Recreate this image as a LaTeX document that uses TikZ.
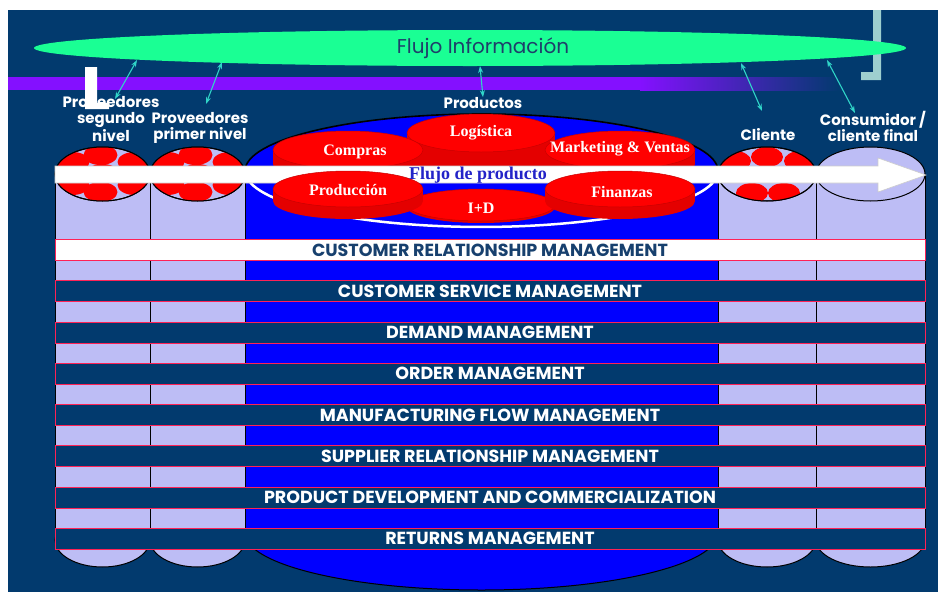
\documentclass[tikz,border=0pt]{standalone}
\usepackage{fontspec}
\setmainfont{Liberation Serif}
\newfontfamily\gothic{Poppins}
\usepackage{tikz}
\usetikzlibrary{arrows.meta, positioning}

\definecolor{NavyBg}{HTML}{023A6E}
\definecolor{InfoGreen}{HTML}{1AFF94}
\definecolor{InfoText}{HTML}{1F3F6A}
\definecolor{InfoTeal}{HTML}{30D5C8}
\definecolor{BandPurple}{HTML}{8410FF}
\definecolor{BandBlue}{HTML}{4A4AE6}
\definecolor{Bracket}{HTML}{9ECFCF}
\definecolor{Lavender}{HTML}{BDBDF5}
\definecolor{CoreBlue}{HTML}{0000FF}
\definecolor{DiscRed}{HTML}{FF0000}
\definecolor{DiscSide}{HTML}{E40000}
\definecolor{DiscEdge}{HTML}{C80000}
\definecolor{FlowText}{HTML}{2323C8}
\definecolor{BarRed}{HTML}{FF2255}
\definecolor{CrmText}{HTML}{17406E}

\tikzset{
  cylline/.style={draw=black, line width=1pt},
  reddot/.style={fill=DiscRed},
  discside/.style={fill=DiscSide},
  discface/.style={fill=DiscRed, draw=DiscEdge, line width=0.5pt},
  disctext/.style={text=white, inner sep=0pt, font=\bfseries\fontsize{16}{18}\selectfont},
  actor/.style={text=white, align=center, inner sep=0pt, font=\gothic\bfseries\fontsize{15}{16}\selectfont},
  infoarrow/.style={{Stealth[length=7pt,width=5pt]}-{Stealth[length=7pt,width=5pt]}, InfoTeal, line width=1.1pt},
  flowarrow/.style={fill=white, draw=black!20, line width=0.6pt},
  procbar/.style={rectangle, draw=BarRed, line width=0.8pt, fill=NavyBg, text=white, minimum width=870pt, minimum height=21pt, inner sep=0pt, font=\gothic\bfseries\fontsize{17.5}{19}\selectfont},
  crmbar/.style={procbar, fill=white, text=CrmText}
}

\begin{document}
\begin{tikzpicture}[x=1pt, y=-1pt]
  \useasboundingbox (0,0) rectangle (938,592);
  \fill[white] (0,0) rectangle (938,592);
  \fill[NavyBg] (8,10) rectangle (938,592);

  % corner bracket, top right
  \fill[Bracket] (873,10) rectangle (881,80) (861,72) rectangle (881,80);

  % information flow
  \fill[InfoGreen] (470,48) ellipse [x radius=436, y radius=18];
  \node[text=InfoText, font=\gothic\fontsize{20}{22}\selectfont] (info) at (483,48) {Flujo Información};

  % purple band
  \fill[BandPurple] (8,77) rectangle (640,90);
  \shade[left color=BandPurple, middle color=BandBlue, right color=NavyBg] (640,77) rectangle (840,90);

  % outer cylinders
  \foreach \cx/\rx in {102.5/47.5, 197.5/47.5, 767/49, 870.5/54.5} {
    \draw[cylline, fill=Lavender] (\cx,540) ellipse [x radius=\rx, y radius=27];
    \fill[Lavender] (\cx-\rx,174) rectangle (\cx+\rx,540);
    \draw[cylline] (\cx-\rx,174) -- (\cx-\rx,540) (\cx+\rx,174) -- (\cx+\rx,540);
    \draw[cylline, fill=Lavender] (\cx,174) ellipse [x radius=\rx, y radius=27];
  }
  \foreach \cx in {102.5, 197.5} {
    \begin{scope}
      \clip (\cx,174) ellipse [x radius=47.5, y radius=27];
      \foreach \dx/\dy in {0/0, -2/-19, -30/-12, 32/-12, -30/11, -2/18, 32/11}
        \fill[reddot] (\cx+\dx,174+\dy) ellipse [x radius=17, y radius=10];
    \end{scope}
    \draw[cylline] (\cx,174) ellipse [x radius=47.5, y radius=27];
  }
  \begin{scope}
    \clip (767,174) ellipse [x radius=49, y radius=27];
    \foreach \px/\py in {735/161, 767/157, 800/161, 752/193, 784/193}
      \fill[reddot] (\px,\py) ellipse [x radius=16, y radius=10];
  \end{scope}
  \draw[cylline] (767,174) ellipse [x radius=49, y radius=27];

  % company cylinder
  \draw[cylline, fill=CoreBlue] (481.5,533) ellipse [x radius=236.5, y radius=57];
  \fill[CoreBlue] (245,171) rectangle (718,533);
  \draw[cylline] (245,171) -- (245,533) (718,171) -- (718,533);
  \fill[CoreBlue] (481.5,171) ellipse [x radius=236.5, y radius=57];
  \draw[black, line width=1.6pt] (245,171) arc[start angle=180, end angle=360, x radius=236.5, y radius=57];
  \draw[white, line width=2.5pt] (250.2,182.6) arc[start angle=168, end angle=12, x radius=236.5, y radius=56];

  % functional areas, back row
  \foreach \cx/\cy/\rx/\ry/\h/\name/\txt/\tx/\ty in {
      481/133/74/19/28/logis/Logística/481/133,
      348/150/75/19/14/compras/Compras/355/152,
      620/150/75/19/14/mkt/Marketing \& Ventas/620/149} {
    \fill[discside] (\cx-\rx,\cy) rectangle (\cx+\rx,\cy+\h);
    \fill[discside] (\cx,\cy+\h) ellipse [x radius=\rx, y radius=\ry];
    \draw[discface] (\cx,\cy) ellipse [x radius=\rx, y radius=\ry];
    \node[disctext] (\name) at (\tx,\ty) {\txt};
  }

  % product flow arrow
  \draw[flowarrow] (55,166) -- (878,166) -- (878,158) -- (926,175) -- (878,192) -- (878,183) -- (55,183) -- cycle;

  % functional areas, front row
  \foreach \cx/\cy/\rx/\ry/\h/\name/\txt/\tx/\ty in {
      481/205/74/16/2/imasd/I+D/481/208,
      348/189/75/18/12/prod/Producción/348/190,
      620/189/75/18/12/fin/Finanzas/622/192} {
    \fill[discside] (\cx-\rx,\cy) rectangle (\cx+\rx,\cy+\h);
    \fill[discside] (\cx,\cy+\h) ellipse [x radius=\rx, y radius=\ry];
    \draw[discface] (\cx,\cy) ellipse [x radius=\rx, y radius=\ry];
    \node[disctext] (\name) at (\tx,\ty) {\txt};
  }
  \node[text=FlowText, inner sep=0pt, font=\bfseries\fontsize{18}{20}\selectfont] (flow) at (478,175) {Flujo de producto};

  % business processes
  \node[crmbar] (bar0) at (490,250) {CUSTOMER RELATIONSHIP MANAGEMENT};
  \foreach \lbl [count=\i] in {CUSTOMER SERVICE MANAGEMENT, DEMAND MANAGEMENT, ORDER MANAGEMENT,
      MANUFACTURING FLOW MANAGEMENT, SUPPLIER RELATIONSHIP MANAGEMENT,
      PRODUCT DEVELOPMENT AND COMMERCIALIZATION, RETURNS MANAGEMENT}
    \node[procbar] (bar\i) at (490,{250+41.25*\i}) {\lbl};

  % supply chain members
  \node[actor] (provseg) at (111,119) {Proveedores\\segundo\\nivel};
  \node[actor] (provprim) at (200,128) {Proveedores\\primer nivel};
  \node[actor] (productos) at (483,103) {Productos};
  \node[actor] (cliente) at (768,135) {Cliente};
  \node[actor] (consum) at (873,126) {Consumidor /\\cliente final};

  % information links
  \coordinate (i1) at (137,60);
  \coordinate (i2) at (222,62);
  \coordinate (i3) at (480,66);
  \coordinate (i4) at (741,63);
  \coordinate (i5) at (827,60);
  \coordinate (t1) at (115,99);
  \coordinate (t2) at (206,104);
  \coordinate (t4) at (762,111);
  \coordinate (t5) at (855,113);
  \draw[infoarrow] (i1) -- (t1);
  \draw[infoarrow] (i2) -- (t2);
  \draw[infoarrow] (i3) -- (productos.north);
  \draw[infoarrow] (i4) -- (t4);
  \draw[infoarrow] (i5) -- (t5);

  % white corner mark
  \fill[white] (85,67) rectangle (97,109) (85,103) rectangle (109,109);
\end{tikzpicture}
\end{document}
